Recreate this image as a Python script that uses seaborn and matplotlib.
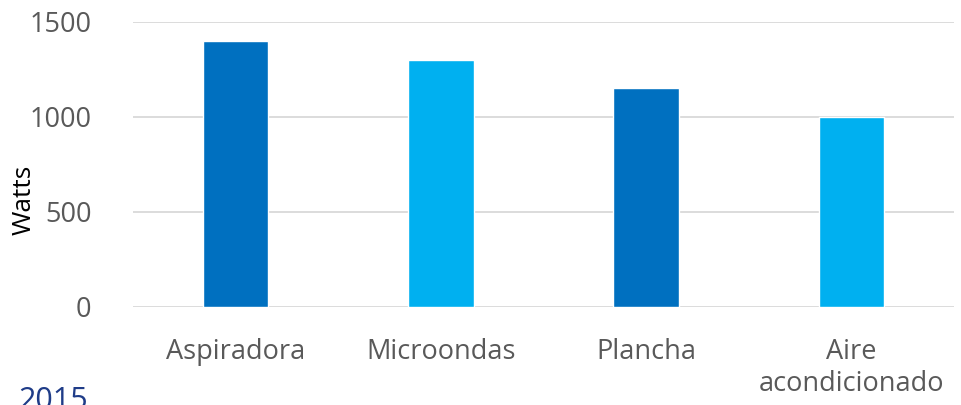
import pandas as pd
import seaborn as sns
import matplotlib.pyplot as plt

categorias = ["Aspiradora", "Microondas", "Plancha", "Aire\nacondicionado"]
watts = [1400, 1300, 1150, 1000]
colores = ["#0070C0", "#00B0F0", "#0070C0", "#00B0F0"]

df = pd.DataFrame({"Aparato": categorias, "Watts": watts})

sns.set_style("white")
plt.rcParams["font.family"] = ["Open Sans", "DejaVu Sans"]

fig = plt.figure(figsize=(9.61, 4.05), dpi=100)
ax = fig.add_axes([0.1384, 0.242, 0.8543, 0.7037])

sns.barplot(
    data=df, x="Aparato", y="Watts", hue="Aparato",
    palette=colores, width=0.32, legend=False, saturation=1, ax=ax
)

ax.set_ylim(0, 1500)
ax.set_yticks([0, 500, 1000, 1500])
ax.yaxis.grid(True, color="#D9D9D9", linewidth=1.3)
ax.set_axisbelow(True)
sns.despine(ax=ax, left=True, bottom=True)
ax.tick_params(axis="both", length=0, labelsize=19.5, colors="#595959")
ax.tick_params(axis="x", pad=22)
ax.tick_params(axis="y", pad=30)
ax.set_xlabel("")
ax.set_ylabel("Watts", fontsize=19, color="black")
ax.yaxis.set_label_coords(-0.117, 0.375)

# texto "2015" recortado en el borde inferior, como en el original
fig.text(0.019, 1 - 386 / 405, "2015", fontsize=22, color="#1F3C88", va="top")

fig.savefig("out.png", dpi=100)
